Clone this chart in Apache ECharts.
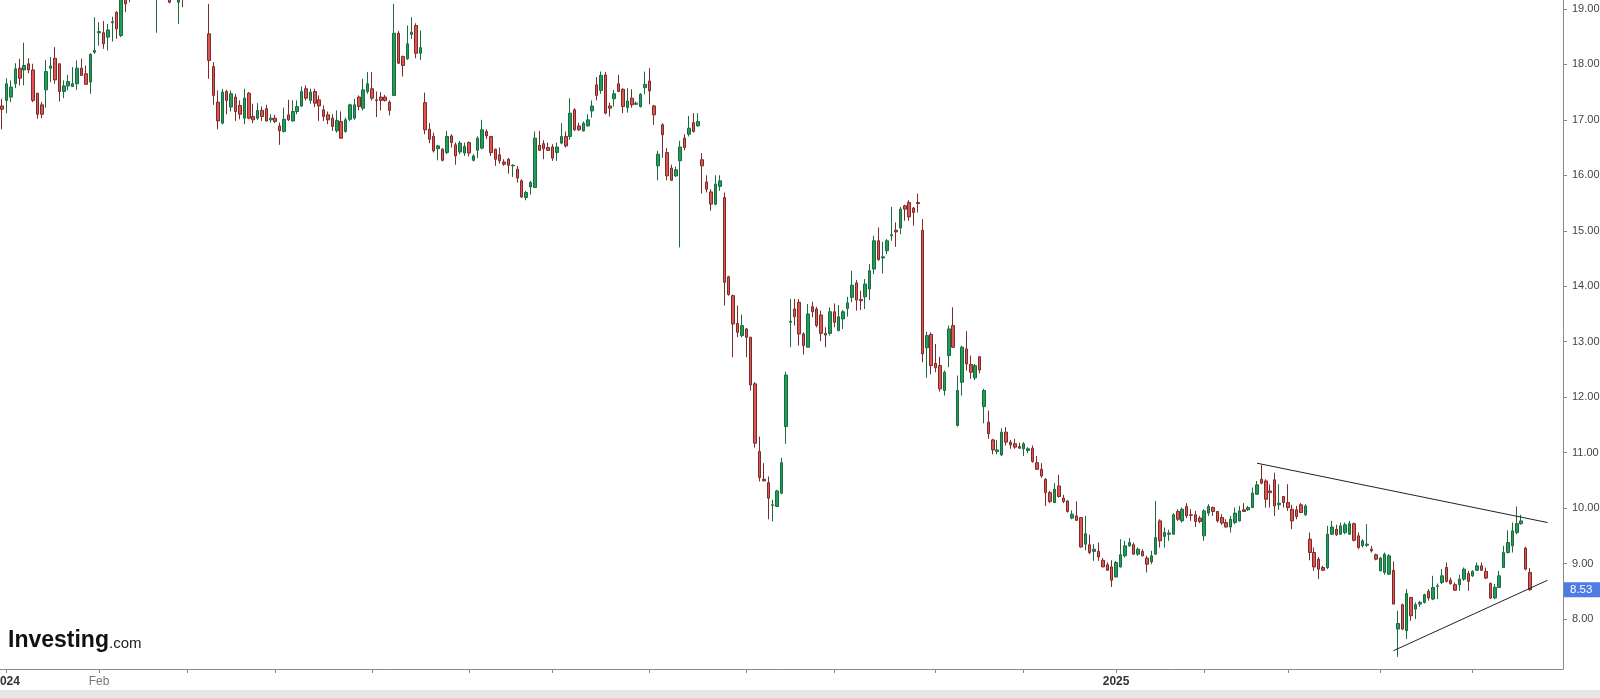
<!DOCTYPE html>
<html>
<head>
<meta charset="utf-8">
<script src="https://cdn.jsdelivr.net/npm/echarts@6/dist/echarts.min.js"></script>
<style>
html,body{margin:0;padding:0;background:#fff;}
#chart{width:1600px;height:698px;}
</style>
</head>
<body>
<div id="chart"></div>
<script>
// [open, close, low, high] — Dec 29 2023 .. mid May 2024
const candlesA = [
[17.25,17.19,16.83,17.38],[17.35,17.65,17.12,17.75],[17.41,17.59,17.32,17.71],[17.65,17.92,17.57,18.02],
[17.93,17.75,17.62,18.10],[17.90,17.98,17.62,18.39],[18.01,17.90,17.84,18.11],[17.90,17.35,17.32,18.01],
[17.48,17.10,17.02,17.48],[17.27,17.10,17.03,17.32],[17.54,17.87,17.22,18.08],[17.93,17.97,17.68,18.13],
[18.11,17.72,17.65,18.31],[18.01,17.51,17.33,18.01],[17.51,17.61,17.39,17.71],[17.61,17.69,17.53,17.81],
[17.60,17.65,17.59,17.95],[17.65,17.93,17.54,18.07],[17.93,17.80,17.80,18.10],[17.83,17.64,17.64,17.98],
[17.68,18.18,17.47,18.20],[18.22,18.25,18.19,18.85],[18.57,18.59,18.34,18.76],[18.57,18.37,18.28,18.78],
[18.49,18.62,18.25,18.73],[18.75,18.77,18.41,18.86],[18.94,18.64,18.46,18.96],[18.52,19.35,18.49,19.45],
[19.45,19.09,18.94,19.60],[19.30,19.55,19.12,19.70],[19.55,19.80,19.40,19.95],[19.80,19.70,19.55,20.00],
[19.70,19.95,19.60,20.10],[19.95,19.85,19.70,20.15],[19.85,19.60,19.45,19.95],[19.60,19.75,18.57,19.90],
[19.75,19.65,19.45,19.90],[19.65,19.50,19.30,19.80],[19.50,19.12,19.10,19.60],[19.20,19.40,19.18,19.55],
[19.12,19.40,18.73,19.50],[19.40,19.30,19.03,19.55],[19.30,19.50,19.20,19.65],[19.50,19.45,19.25,19.70],
[19.45,19.60,19.30,19.75],[19.60,19.40,19.25,19.70],[19.40,19.50,19.22,19.65],[18.55,18.07,17.74,19.09],
[17.96,17.44,17.27,18.04],[17.32,16.98,16.83,17.53],[16.94,17.50,16.92,17.56],[17.51,17.35,17.10,17.54],
[17.23,17.47,17.15,17.53],[17.41,17.15,16.98,17.47],[17.26,17.10,17.01,17.35],[17.03,17.39,16.92,17.56],
[17.48,17.03,17.01,17.50],[17.06,17.00,16.94,17.29],[17.03,17.17,17.00,17.30],[17.17,17.06,16.98,17.24],
[17.20,16.98,16.97,17.27],[17.00,17.03,16.95,17.10],[17.03,16.97,16.94,17.09],[16.89,16.80,16.55,16.95],
[16.79,17.01,16.77,17.22],[17.09,17.00,16.98,17.36],[16.98,17.15,16.97,17.35],[17.15,17.24,17.10,17.35],
[17.25,17.51,17.23,17.60],[17.56,17.39,17.35,17.62],[17.35,17.50,17.29,17.56],[17.51,17.30,17.23,17.56],
[17.36,17.25,16.98,17.44],[17.18,17.06,16.98,17.26],[17.09,17.00,16.92,17.15],[17.03,16.88,16.80,17.10],
[16.80,16.99,16.77,17.17],[16.97,16.67,16.66,17.15],[16.79,17.00,16.77,17.04],[17.01,17.27,16.98,17.29],
[17.03,17.27,17.00,17.38],[17.41,17.24,17.17,17.44],[17.21,17.54,17.17,17.74],[17.51,17.65,17.47,17.86],
[17.56,17.39,17.35,17.86],[17.36,17.35,17.05,17.51],[17.41,17.35,17.17,17.50],[17.41,17.35,17.33,17.45],
[17.32,17.17,17.08,17.35],[17.44,18.56,17.44,19.09],[18.56,18.02,18.01,18.60],[18.14,17.98,17.78,18.16],
[18.10,18.37,18.08,18.70],[18.54,18.58,18.46,18.85],[18.70,18.20,18.11,18.74],[18.20,18.30,18.08,18.61]
];
// mid May 2024 .. Dec 31 2024
const candlesB = [
[17.31,16.82,16.74,17.49],[16.83,16.65,16.58,16.94],[16.70,16.44,16.41,16.77],[16.48,16.53,16.27,16.55],
[16.47,16.27,16.25,16.49],[16.41,16.70,16.38,16.80],[16.71,16.59,16.50,16.74],[16.55,16.35,16.19,16.59],
[16.42,16.58,16.38,16.62],[16.40,16.52,16.35,16.59],[16.59,16.40,16.34,16.61],[16.27,16.35,16.25,16.38],
[16.45,16.67,16.31,16.70],[16.49,16.82,16.47,17.00],[16.79,16.71,16.65,16.83],[16.70,16.41,16.35,16.71],
[16.47,16.29,16.17,16.48],[16.37,16.26,16.21,16.50],[16.24,16.20,16.17,16.29],[16.29,16.18,16.03,16.31],
[16.17,16.18,15.97,16.20],[16.11,15.95,15.87,16.17],[15.90,15.61,15.59,15.93],[15.60,15.69,15.55,15.72],
[15.79,15.87,15.65,15.90],[15.78,16.67,15.77,16.79],[16.54,16.45,16.44,16.80],[16.57,16.48,16.29,16.63],
[16.50,16.45,16.44,16.59],[16.51,16.31,16.26,16.56],[16.41,16.51,16.26,16.59],[16.58,16.70,16.56,16.94],
[16.70,16.53,16.50,16.79],[16.70,17.12,16.64,17.39],[17.18,16.82,16.80,17.21],[16.89,16.82,16.80,16.95],
[16.80,16.94,16.79,16.97],[16.89,17.00,16.88,17.10],[17.16,17.25,17.04,17.35],[17.63,17.44,17.35,17.77],
[17.53,17.80,17.47,17.87],[17.81,17.12,17.10,17.86],[17.25,17.21,17.06,17.31],[17.38,17.47,17.24,17.54],
[17.65,17.51,17.50,17.81],[17.55,17.24,17.12,17.57],[17.22,17.34,17.13,17.57],[17.39,17.27,17.22,17.55],
[17.28,17.30,17.27,17.33],[17.24,17.46,17.22,17.48],[17.58,17.64,17.46,17.87],[17.70,17.52,17.28,17.93],
[17.25,17.09,16.91,17.27],[16.17,16.38,15.91,16.44],[16.91,16.73,16.32,16.94],[16.41,15.99,15.91,16.49],
[16.13,15.91,15.91,16.19],[15.99,16.10,15.97,16.16],[16.26,16.51,14.70,16.62],[16.67,16.50,16.45,16.74],
[16.74,16.85,16.70,17.07],[16.95,16.79,16.77,17.12],[16.89,16.97,16.88,17.12],[16.28,16.17,15.67,16.40],
[15.88,15.75,15.69,16.00],[15.70,15.48,15.36,15.75],[15.48,15.84,15.46,16.00],[15.80,15.90,15.72,16.00],
[15.60,14.07,13.65,15.69],[14.17,13.85,13.83,14.19],[13.83,13.32,12.72,13.85],[13.33,13.17,13.08,13.65],
[13.11,13.29,13.08,13.49],[13.23,13.08,12.72,13.25],[13.08,12.22,12.12,13.09],[12.24,11.17,11.09,12.27],
[11.02,10.55,10.48,11.29],[10.52,10.49,10.49,10.81],[10.46,10.18,9.80,10.57],[10.05,10.06,9.76,10.15],
[10.03,10.31,10.02,10.33],[10.27,10.82,10.25,10.91],[11.47,12.40,11.16,12.46],[13.35,13.37,12.90,13.77],
[13.59,13.45,13.29,13.77],[13.71,13.14,12.93,13.77],[13.14,12.93,12.77,13.17],[12.90,13.50,12.90,13.68],
[13.63,13.54,13.44,13.72],[13.59,13.29,13.26,13.63],[13.48,13.15,13.01,13.56],[13.15,13.12,12.90,13.26],
[13.15,13.54,13.11,13.62],[13.54,13.35,13.26,13.69],[13.20,13.45,13.19,13.66],[13.41,13.54,13.23,13.57],
[13.60,13.70,13.45,13.81],[13.80,14.02,13.71,14.28],[14.06,13.75,13.56,14.11],[13.76,13.74,13.57,13.92],
[13.81,14.04,13.59,14.13],[13.95,14.28,13.75,14.40],[14.31,14.82,14.22,14.91],[14.82,14.48,14.46,15.06],
[14.51,14.53,14.23,14.80],[14.64,14.82,14.58,14.85],[14.91,14.93,14.82,15.43],[15.01,14.98,14.71,15.15],
[15.05,15.39,14.94,15.43],[15.45,15.39,15.18,15.47],[15.51,15.25,15.18,15.55],[15.41,15.33,15.09,15.43],
[15.51,15.49,15.33,15.67],[15.01,12.78,12.63,15.21],[12.89,13.11,12.35,13.18],[13.13,12.57,12.41,13.17],
[12.61,12.53,12.45,12.96],[12.57,12.15,12.10,12.73],[12.12,12.45,12.03,12.48],[12.75,13.23,12.54,13.29],
[13.29,12.90,12.89,13.62],[11.49,12.12,11.47,12.39],[12.27,12.90,12.03,12.93],[12.87,12.60,12.48,13.19],
[12.59,12.45,12.33,12.75],[12.35,12.57,12.31,12.60],[12.73,12.49,12.43,12.73],[11.83,12.12,11.53,12.15],
[11.55,11.34,11.25,11.76],[11.23,11.05,10.97,11.25],[11.02,11.05,10.97,11.23],[10.96,11.37,10.94,11.44],
[11.37,11.19,11.13,11.46],[11.19,11.14,11.07,11.23],[11.16,11.10,11.07,11.25],[11.11,11.08,11.07,11.18],
[11.07,11.16,10.94,11.19],[11.04,11.07,10.99,11.10],[11.08,10.84,10.82,11.13],[10.82,10.70,10.69,10.94],
[10.70,10.58,10.55,10.81],[10.52,10.28,10.04,10.54],[10.28,10.12,10.09,10.31],[10.10,10.34,10.09,10.45],
[10.40,10.21,10.19,10.60],[10.18,10.12,10.09,10.24],[10.13,9.94,9.92,10.14],[9.82,9.89,9.80,9.96],
[9.86,9.78,9.77,10.12],[9.83,9.30,9.29,9.84],[9.35,9.54,9.24,9.86],[9.34,9.20,9.17,9.52],
[9.22,9.26,9.05,9.35],[9.22,9.12,9.05,9.38],[9.06,8.94,8.94,9.10],[8.98,8.88,8.87,9.02],
[8.94,8.70,8.58,9.06]
];
// Jan 2 2025 .. May 2025
const candlesC = [
[8.76,9.02,8.75,9.05],[8.94,9.16,8.93,9.44],[9.14,9.32,9.11,9.41],[9.32,9.38,9.30,9.46],
[9.34,9.17,9.16,9.38],[9.17,9.26,9.14,9.29],[9.22,9.14,9.13,9.26],[9.10,8.99,8.84,9.14],
[9.03,9.14,8.99,9.23],[9.17,9.47,9.16,10.13],[9.77,9.41,9.29,9.80],[9.49,9.56,9.29,9.65],
[9.53,9.55,9.41,9.61],[9.53,9.88,9.52,9.91],[9.94,9.80,9.77,9.98],[9.77,9.98,9.74,10.01],
[10.03,9.86,9.82,10.09],[9.88,9.87,9.77,9.98],[9.88,9.76,9.66,9.95],[9.82,9.76,9.73,9.86],
[9.50,9.95,9.41,9.98],[9.91,10.03,9.86,10.07],[10.01,9.94,9.86,10.03],[9.94,9.77,9.74,9.95],
[9.83,9.73,9.70,9.89],[9.74,9.66,9.65,9.80],[9.66,9.80,9.56,9.86],[9.74,9.91,9.71,10.01],
[9.77,9.95,9.76,10.04],[9.97,9.94,9.94,10.09],[9.97,10.01,9.95,10.04],[10.01,10.27,10.00,10.37],
[10.25,10.42,10.24,10.49],[10.52,10.45,10.43,10.78],[10.49,10.16,10.01,10.52],[10.31,10.28,10.01,10.43],
[10.51,10.04,9.86,10.64],[10.06,10.09,9.97,10.43],[10.21,10.10,10.01,10.22],[10.10,10.01,9.95,10.43],
[9.98,9.77,9.62,10.06],[9.97,9.85,9.80,10.04],[10.06,9.92,9.91,10.09],[9.88,10.04,9.86,10.07],
[9.44,9.20,9.06,9.56],[9.20,8.94,8.87,9.29],[9.08,8.90,8.72,9.12],[8.93,8.88,8.87,8.96],
[8.93,9.53,8.90,9.68],[9.53,9.66,9.52,9.77],[9.62,9.52,9.50,9.70],[9.53,9.68,9.52,9.74],
[9.56,9.70,9.53,9.74],[9.53,9.72,9.52,9.77],[9.72,9.42,9.40,9.74],[9.50,9.29,9.26,9.56],
[9.32,9.41,9.29,9.44],[9.33,9.35,9.30,9.71],[9.26,9.23,9.20,9.32],[9.16,9.08,9.06,9.18],
[8.87,9.10,8.86,9.12],[8.84,9.17,8.80,9.20],[8.81,9.14,8.80,9.17],[8.88,8.27,8.27,9.04],
[7.82,7.92,7.32,8.15],[8.26,7.82,7.80,8.28],[7.79,8.46,7.64,8.54],[8.39,8.06,7.97,8.40],
[8.18,8.26,8.00,8.30],[8.27,8.30,8.22,8.33],[8.30,8.44,8.28,8.46],[8.50,8.38,8.33,8.54],
[8.36,8.57,8.34,8.78],[8.59,8.60,8.36,8.64],[8.66,8.78,8.63,8.90],[8.93,8.68,8.66,9.02],
[8.70,8.64,8.62,8.75],[8.62,8.52,8.51,8.66],[8.62,8.72,8.51,8.80],[8.72,8.90,8.69,8.93],
[8.82,8.68,8.51,8.87],[8.78,8.86,8.76,8.88],[8.88,8.96,8.87,9.02],[8.96,8.88,8.87,9.02],
[8.86,8.74,8.72,8.93],[8.64,8.38,8.36,8.66],[8.38,8.57,8.36,8.63],[8.57,8.78,8.56,8.87],
[8.93,9.20,8.92,9.32],[9.20,9.38,9.18,9.60],[9.32,9.59,9.20,9.74],[9.56,9.72,9.53,10.03],
[9.72,9.77,9.70,9.88],[9.28,8.90,8.88,9.30],[8.84,8.53,8.51,8.92]
];

const yTicks = [8, 9, 10, 11, 12, 13, 14, 15, 16, 17, 18, 19];
const lastPrice = 8.53;
// trend lines: [candle index, price]
const upperTrend = [[285, 10.81], [351, 9.74]];
const lowerTrend = [[316, 7.43], [351, 8.70]];
const xLabelText = { '2024-01-02': '2024', '2024-02-01': 'Feb', '2025-01-02': '2025' };
const holidays = ['2024-01-01','2024-01-15','2024-02-19','2024-03-29','2024-05-27','2024-06-19','2024-07-04',
  '2024-09-02','2024-11-28','2024-12-25','2025-01-01','2025-01-09','2025-01-20','2025-02-17','2025-04-18','2025-05-26'];
const firstDay = '2023-12-29';
const slotCount = 355;

function tradingDays(start, count) {
  const out = [];
  const d = new Date(start + 'T00:00:00Z');
  while (out.length < count) {
    const dow = d.getUTCDay();
    const s = d.toISOString().slice(0, 10);
    if (dow !== 0 && dow !== 6 && holidays.indexOf(s) < 0) out.push(s);
    d.setUTCDate(d.getUTCDate() + 1);
  }
  return out;
}
const dates = tradingDays(firstDay, slotCount);
const candles = candlesA.concat(candlesB, candlesC);
function isMonthStart(i) {
  return i > 0 && dates[i].slice(5, 7) !== dates[i - 1].slice(5, 7);
}

const chart = echarts.init(document.getElementById('chart'), null, { renderer: 'canvas' });
const option = {
  animation: false,
  backgroundColor: '#ffffff',
  grid: { left: 0, right: 37, top: 0, bottom: 29, containLabel: false, outerBoundsMode: 'none' },
  xAxis: {
    type: 'category',
    data: dates,
    boundaryGap: true,
    axisLine: { show: true, lineStyle: { color: '#8a8a8a', width: 1 } },
    axisTick: { show: true, alignWithLabel: true, length: 4, lineStyle: { color: '#8a8a8a' },
      interval: function (i) { return isMonthStart(i); } },
    axisLabel: {
      interval: function (i) { return isMonthStart(i); },
      margin: 7,
      hideOverlap: false,
      formatter: function (v) {
        const t = xLabelText[v];
        if (!t) return '';
        return t.length === 4 ? '{y|' + t + '}' : '{m|' + t + '}';
      },
      rich: {
        y: { fontFamily: 'Liberation Sans, Arial, sans-serif', fontSize: 12, fontWeight: 'bold', color: '#333' },
        m: { fontFamily: 'Liberation Sans, Arial, sans-serif', fontSize: 12, color: '#777' }
      }
    },
    splitLine: { show: false }
  },
  yAxis: {
    type: 'value',
    position: 'right',
    min: 7.10,
    max: 19.16,
    minInterval: 1,
    maxInterval: 1,
    scale: true,
    axisLine: { show: true, lineStyle: { color: '#8a8a8a', width: 1 } },
    axisTick: { show: true, length: 4, lineStyle: { color: '#8a8a8a' }, customValues: yTicks.concat([lastPrice]) },
    splitLine: { show: false },
    axisLabel: {
      customValues: yTicks.concat([lastPrice]),
      margin: 1,
      formatter: function (v) {
        if (Math.abs(v - lastPrice) < 1e-6) return '{last|' + lastPrice.toFixed(2) + '}';
        return '{n|' + v.toFixed(2) + '}';
      },
      rich: {
        n: { fontFamily: 'Liberation Sans, Arial, sans-serif', fontSize: 11, color: '#444', padding: [0, 0, 0, 8] },
        last: { fontFamily: 'Liberation Sans, Arial, sans-serif', fontSize: 11.5, color: '#fff',
          backgroundColor: '#4d7ce6', padding: [2, 12, 1, 6] }
      }
    }
  },
  series: [
    {
      type: 'candlestick',
      data: candles,
      barWidth: 3,
      clip: true,
      itemStyle: {
        color: '#1f9e5a',
        color0: '#dc564f',
        borderColor: '#1b6a40',
        borderColor0: '#7c2a2a',
        borderWidth: 1
      }
    },
    {
      type: 'line',
      data: upperTrend.map(function (p) { return [dates[p[0]], p[1]]; }),
      symbol: 'none',
      lineStyle: { color: '#222', width: 1 },
      silent: true
    },
    {
      type: 'line',
      data: lowerTrend.map(function (p) { return [dates[p[0]], p[1]]; }),
      symbol: 'none',
      lineStyle: { color: '#222', width: 1 },
      silent: true
    }
  ],
  graphic: [
    {
      type: 'text',
      left: 8,
      top: 629,
      style: {
        text: '{a|Investing}{b|.com}',
        rich: {
          a: { fontFamily: 'Liberation Sans, Arial, sans-serif', fontSize: 23, fontWeight: 'bold', fill: '#111' },
          b: { fontFamily: 'Liberation Sans, Arial, sans-serif', fontSize: 15, fill: '#222', padding: [6, 0, 0, 0] }
        }
      }
    },
    {
      type: 'rect',
      left: 0,
      top: 690,
      shape: { width: 1600, height: 8 },
      style: { fill: '#e6e6e6' },
      silent: true
    }
  ]
};
chart.setOption(option);
</script>
</body>
</html>
